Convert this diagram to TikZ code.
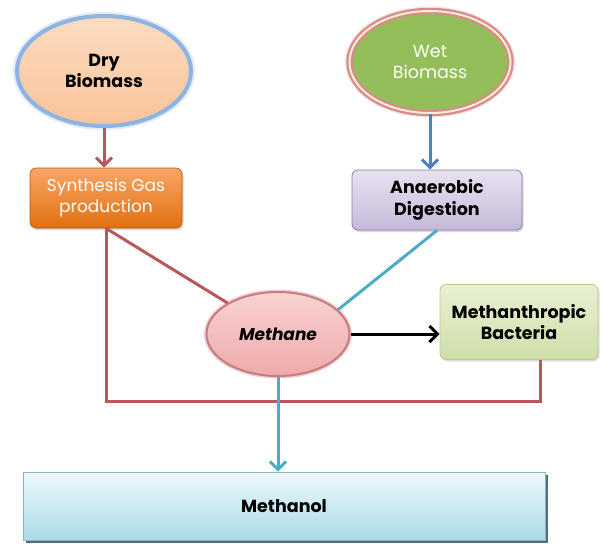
\documentclass[tikz,border=0pt]{standalone}
\usepackage{fontspec}
\setmainfont{Poppins}
\usetikzlibrary{shapes.geometric,arrows.meta,calc,shadows}
\definecolor{redline}{HTML}{B9585C}
\definecolor{cyanline}{HTML}{4BACC6}
\definecolor{blueline}{HTML}{4F81BD}
\definecolor{dryfillA}{HTML}{FCDCC0}
\definecolor{dryfillB}{HTML}{F9C39A}
\definecolor{dryborder}{HTML}{8DB4E2}
\definecolor{wetfill}{HTML}{94BE5A}
\definecolor{wetborder}{HTML}{D98A8C}
\definecolor{wetinner}{HTML}{F4EFD2}
\definecolor{synA}{HTML}{F9A566}
\definecolor{synB}{HTML}{E2700F}
\definecolor{anA}{HTML}{E8E2F0}
\definecolor{anB}{HTML}{C6B9DA}
\definecolor{anborder}{HTML}{8C7FA3}
\definecolor{meA}{HTML}{F9D3D3}
\definecolor{meB}{HTML}{EEA9AA}
\definecolor{meborder}{HTML}{C97C80}
\definecolor{baA}{HTML}{E8F0D2}
\definecolor{baB}{HTML}{CFDEA8}
\definecolor{baborder}{HTML}{B8CC8C}
\definecolor{moA}{HTML}{EEF8FB}
\definecolor{moB}{HTML}{A9DBE8}
\definecolor{moborder}{HTML}{8FB3C2}
\definecolor{moshadow}{HTML}{3F5F6C}
\tikzset{
  lbl/.style={font=\fontsize{17.5}{21.5}\selectfont\bfseries, align=center, text=black},
  ell/.style={ellipse, inner sep=0pt, lbl},
  box/.style={rectangle, rounded corners=6pt, inner sep=0pt, lbl},
  redc/.style={draw=redline, line width=3pt},
  cyanc/.style={draw=cyanline, line width=3pt},
  tip/.style={-{Straight Barb[length=8pt,width=16pt]}},
}
\begin{document}
\begin{tikzpicture}[x=1pt,y=-1pt]
\useasboundingbox[fill=white] (0,0) rectangle (602,544);

% nodes
\node[ell, minimum width=174pt, minimum height=110pt,
      top color=dryfillA, bottom color=dryfillB,
      preaction={draw=dryborder!50, line width=8pt, opacity=0.5},
      draw=dryborder, line width=4pt] (dry) at (104,71) {Dry\\Biomass};

\node[ell, minimum width=161pt, minimum height=102pt,
      fill=wetfill, draw=wetborder, line width=2.2pt,
      double=wetinner, double distance=2pt,
      preaction={draw=wetborder!50, line width=9pt, opacity=0.5},
      text=white, font=\fontsize{17.5}{21.5}\selectfont\mdseries] (wet) at (430,62) {Wet\\Biomass};

\node[box, minimum width=152pt, minimum height=60pt,
      top color=synA, bottom color=synB, draw=synB!80!black, line width=0.6pt,
      drop shadow={shadow xshift=1.5pt, shadow yshift=-2pt, opacity=0.3},
      text=white, font=\fontsize{17}{21}\selectfont\mdseries] (synth) at (106,198) {Synthesis Gas\\production};

\node[box, minimum width=170pt, minimum height=60pt,
      top color=anA, bottom color=anB, draw=anborder, line width=0.8pt,
      drop shadow={shadow xshift=1.5pt, shadow yshift=-2pt, opacity=0.3}] (anaer) at (437,200) {Anaerobic\\Digestion};

\node[ell, minimum width=143pt, minimum height=84pt,
      top color=meA, bottom color=meB,
      preaction={draw=meborder!60, line width=5pt, opacity=0.6},
      draw=meborder, line width=2pt,
      font=\fontsize{17}{21}\selectfont\bfseries\itshape] (methane) at (278,334) {Methane};

\node[box, minimum width=158pt, minimum height=75pt,
      top color=baA, bottom color=baB, draw=baborder, line width=0.8pt,
      drop shadow={shadow xshift=1.5pt, shadow yshift=-2pt, opacity=0.25}] (bact) at (519,322) {Methanthropic\\Bacteria};

\node[rectangle, lbl, inner sep=0pt, minimum width=522pt, minimum height=68pt,
      top color=moA, bottom color=moB, draw=moborder, line width=0.8pt,
      drop shadow={shadow xshift=2.5pt, shadow yshift=-2.5pt, fill=moshadow, opacity=0.9}] (methanol) at (284,506) {Methanol};

% connector corners
\coordinate (cornerL) at (106,401);
\coordinate (cornerR) at (540,401);

% red connectors
\draw[redc, tip] (dry.south) -- (synth.north -| dry.south);
\draw[redc] (synth.south) -- (methane);
\draw[redc, line join=miter] (synth.south) -- (cornerL) -- (cornerR) -- (cornerR |- bact.south);

% blue / cyan connectors
\draw[draw=blueline, line width=3pt, tip] (wet.south) -- (anaer.north -| wet.south);
\draw[cyanc] (anaer.south) -- (methane.22);
\draw[cyanc, tip] (methane.south) -- (methanol.north -| methane.south);

% black connector
\draw[black, line width=3pt, tip] (methane.east) -- (methane.east -| bact.west);
\end{tikzpicture}
\end{document}
